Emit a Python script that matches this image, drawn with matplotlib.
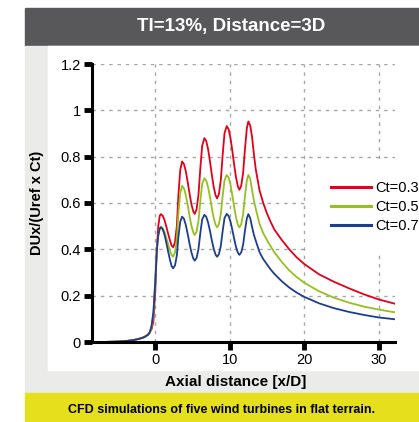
import numpy as np
import matplotlib
matplotlib.use('Agg')
import matplotlib.pyplot as plt
from matplotlib.patches import Rectangle

plt.rcParams['font.family'] = ['Liberation Sans', 'DejaVu Sans']

# values
x = [-8.5, -7, -6, -5, -4, -3, -2.5, -2, -1.5, -1, -0.75, -0.5, -0.25, 0, 0.2, 0.4, 0.6, 0.75,
     1.0, 1.25, 1.5, 1.75, 2.0, 2.2, 2.4,
     2.65, 2.9, 3.1, 3.35, 3.6,
     3.85, 4.1, 4.35, 4.6, 4.85, 5.1, 5.3,
     5.55, 5.8, 6.05, 6.3, 6.6,
     6.85, 7.1, 7.35, 7.6, 7.85, 8.1, 8.3,
     8.55, 8.8, 9.05, 9.3, 9.6,
     9.85, 10.1, 10.35, 10.6, 10.85, 11.1, 11.3,
     11.55, 11.8, 12.05, 12.3, 12.5,
     12.75, 13.0, 13.25, 13.5, 14.0, 14.5, 15.0, 15.5, 16, 17, 18, 19, 20, 22, 24, 26, 28, 30, 32.2]

ct03 = [0, 0, 0.001, 0.002, 0.004, 0.008, 0.012, 0.016, 0.022, 0.032, 0.042, 0.055, 0.09, 0.22, 0.40, 0.50, 0.545, 0.552,
        0.545, 0.525, 0.496, 0.465, 0.436, 0.416, 0.409,
        0.431, 0.502, 0.631, 0.742, 0.779,
        0.768, 0.737, 0.691, 0.641, 0.595, 0.564, 0.553,
        0.573, 0.635, 0.749, 0.847, 0.88,
        0.867, 0.831, 0.779, 0.721, 0.669, 0.633, 0.62,
        0.639, 0.698, 0.807, 0.901, 0.932,
        0.918, 0.88, 0.825, 0.764, 0.709, 0.671, 0.657,
        0.675, 0.731, 0.834, 0.923, 0.952,
        0.935, 0.885, 0.81, 0.745, 0.655, 0.6, 0.555, 0.518, 0.485, 0.44, 0.40, 0.365, 0.337, 0.292, 0.26, 0.232, 0.206, 0.184, 0.165]

ct05 = [0, 0, 0.001, 0.002, 0.004, 0.008, 0.011, 0.015, 0.02, 0.03, 0.04, 0.065, 0.12, 0.27, 0.40, 0.46, 0.49, 0.498,
        0.492, 0.474, 0.447, 0.419, 0.392, 0.375, 0.368,
        0.386, 0.445, 0.552, 0.643, 0.674,
        0.663, 0.634, 0.592, 0.544, 0.502, 0.473, 0.462,
        0.477, 0.523, 0.609, 0.683, 0.707,
        0.696, 0.667, 0.625, 0.577, 0.535, 0.506, 0.495,
        0.509, 0.552, 0.631, 0.698, 0.721,
        0.71, 0.679, 0.633, 0.583, 0.537, 0.506, 0.495,
        0.509, 0.552, 0.631, 0.698, 0.721,
        0.705, 0.655, 0.61, 0.575, 0.51, 0.47, 0.44, 0.413, 0.387, 0.345, 0.309, 0.28, 0.256, 0.219, 0.191, 0.17, 0.153, 0.14, 0.128]

ct07 = [0, 0, 0.001, 0.002, 0.004, 0.008, 0.011, 0.015, 0.02, 0.03, 0.04, 0.07, 0.13, 0.26, 0.39, 0.46, 0.49, 0.495,
        0.486, 0.462, 0.426, 0.387, 0.351, 0.327, 0.318,
        0.331, 0.374, 0.452, 0.519, 0.541,
        0.532, 0.505, 0.467, 0.425, 0.387, 0.361, 0.351,
        0.363, 0.401, 0.47, 0.529, 0.549,
        0.54, 0.515, 0.479, 0.438, 0.402, 0.377, 0.368,
        0.379, 0.414, 0.479, 0.535, 0.553,
        0.544, 0.52, 0.484, 0.445, 0.409, 0.385, 0.376,
        0.387, 0.42, 0.482, 0.534, 0.552,
        0.535, 0.497, 0.462, 0.437, 0.388, 0.358, 0.335, 0.313, 0.294, 0.262, 0.235, 0.213, 0.195, 0.167, 0.146, 0.13, 0.117, 0.106, 0.098]

labels = ['Ct=0.3', 'Ct=0.5', 'Ct=0.7']
colors = ['#e2001a', '#95c11f', '#1d3d8f']
title = 'TI=13%, Distance=3D'
caption = 'CFD simulations of five wind turbines in flat terrain.'

W, H = 419, 422
fig = plt.figure(figsize=(W / 100, H / 100), dpi=100)

# background boxes (pixel coords measured from the top)
def box(x0, y0, x1, y1, color):
    fig.patches.append(Rectangle((x0 / W, 1 - y1 / H), (x1 - x0) / W, (y1 - y0) / H,
                                 transform=fig.transFigure, color=color, zorder=-10))

box(25, 8, 419, 46, '#58585a')
box(25, 46, 419, 393, '#ebecea')
box(48, 46, 419, 370, 'white')
box(25, 393, 419, 422, '#e5df1c')

ax = fig.add_axes([92 / W, 1 - 342 / H, 303 / W, 278 / H])
ax.patch.set_alpha(0)

for ys, lab, c in zip([ct03, ct05, ct07], labels, colors):
    ax.plot(x, ys, color=c, lw=1.3, label=lab)

ax.set_xlim(-8.5, 32.2)
ax.set_ylim(0, 1.2)
ax.set_xticks([0, 10, 20, 30])
ax.set_yticks([0, 0.2, 0.4, 0.6, 0.8, 1, 1.2])
ax.set_yticklabels(['0', '0.2', '0.4', '0.6', '0.8', '1', '1.2'])
ax.grid(True, color='#a8a8a8', linestyle=(0, (2.5, 3.5)), lw=1)
ax.set_axisbelow(True)

for s in ['top', 'right']:
    ax.spines[s].set_visible(False)
for s in ['left', 'bottom']:
    ax.spines[s].set_linewidth(2.2)
ax.tick_params(width=3.5, length=6, labelsize=10.5, pad=2, colors='black')

ax.set_ylabel('DUx/(Uref x Ct)', fontsize=10.5, fontweight='bold')
ax.yaxis.set_label_coords(-0.157, 0.5)

leg = ax.legend(loc='center left', bbox_to_anchor=(0.715, 0.486), frameon=True, fontsize=10.5,
                handlelength=2.8, handletextpad=0.3, labelspacing=0.35, borderpad=1.5,
                borderaxespad=0)
leg.get_frame().set_facecolor('white')
leg.get_frame().set_edgecolor('none')
leg.get_frame().set_alpha(1)
for h in leg.get_lines():
    h.set_linewidth(2.2)

fig.text(231 / W, 1 - 27 / H, title, color='white', fontsize=13.5, fontweight='bold',
         ha='center', va='center')
fig.text(236 / W, 1 - 382 / H, 'Axial distance [x/D]', fontsize=11, fontweight='bold',
         ha='center', va='center')
fig.text(221 / W, 1 - 410 / H, caption, fontsize=9, fontweight='bold', ha='center', va='center')

fig.savefig('out.png', dpi=100)
